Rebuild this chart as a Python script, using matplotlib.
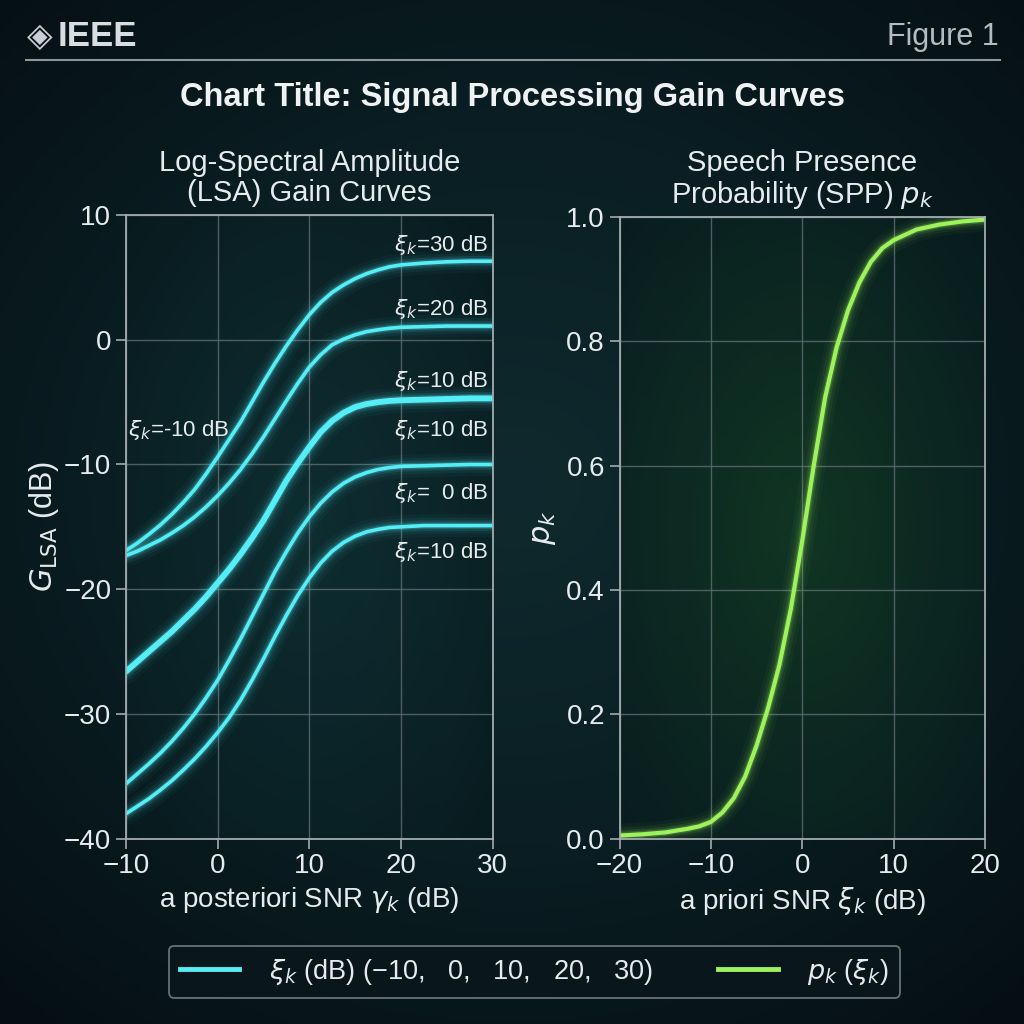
import numpy as np
import matplotlib.pyplot as plt
from matplotlib.colors import LinearSegmentedColormap
from matplotlib.lines import Line2D

plt.rcParams['font.family'] = ['Liberation Sans', 'DejaVu Sans']
plt.rcParams['mathtext.fontset'] = 'dejavusans'

# a posteriori SNR (dB) for the LSA gain curves
gamma_db = [-10, -8.75, -7.5, -6.25, -5, -3.75, -2.5, -1.25, 0, 1.25, 2.5, 3.75, 5, 6.25, 7.5,
            8.75, 10, 11.25, 12.5, 13.75, 15, 16.25, 17.5, 18.75, 20, 22.5, 25, 27.5, 30]
gain_xi30 = [-16.9, -16.3, -15.6, -14.85, -14.0, -13.05, -12.0, -10.75, -9.4, -8.0, -6.6, -5.0, -3.4, -1.9, -0.5,
             0.8, 2.0, 3.0, 3.8, 4.4, 4.9, 5.3, 5.6, 5.85, 6.0, 6.15, 6.25, 6.3, 6.3]
gain_xi20 = [-17.3, -16.95, -16.5, -16.05, -15.5, -14.9, -14.2, -13.4, -12.5, -11.5, -10.4, -9.15, -7.8, -6.35, -4.9,
             -3.5, -2.2, -1.2, -0.4, 0.05, 0.4, 0.65, 0.8, 0.92, 1.0, 1.05, 1.1, 1.1, 1.1]
gain_xi10 = [-26.6, -25.8, -25.0, -24.2, -23.4, -22.5, -21.6, -20.6, -19.5, -18.4, -17.2, -15.9, -14.5, -12.9, -11.3,
             -9.9, -8.6, -7.4, -6.5, -5.85, -5.4, -5.15, -5.0, -4.9, -4.85, -4.8, -4.75, -4.7, -4.7]
gain_xi0 = [-35.6, -34.8, -34.0, -33.15, -32.2, -31.15, -30.0, -28.7, -27.3, -25.7, -24.0, -22.2, -20.4, -18.6, -17.0,
            -15.5, -14.2, -13.1, -12.2, -11.5, -11.0, -10.65, -10.4, -10.25, -10.15, -10.1, -10.05, -10.0, -10.0]
gain_xim10 = [-38.0, -37.4, -36.8, -36.1, -35.35, -34.5, -33.6, -32.6, -31.5, -30.3, -28.9, -27.3, -25.6, -23.8, -22.1,
              -20.5, -19.1, -17.9, -16.95, -16.25, -15.75, -15.4, -15.2, -15.05, -15.0, -14.9, -14.9, -14.9, -14.9]

# a priori SNR (dB) and speech presence probability
xi_db = [-20, -17.5, -15, -12.5, -11.25, -10, -8.75, -7.5, -6.25, -5, -3.75, -2.5, -1.25, 0, 1.25,
         2.5, 3.75, 5, 6.25, 7.5, 8.75, 10, 12.5, 15, 17.5, 20]
spp = [0.005, 0.007, 0.010, 0.016, 0.020, 0.027, 0.042, 0.065, 0.10, 0.15, 0.21, 0.28, 0.37, 0.48, 0.60,
       0.71, 0.79, 0.85, 0.895, 0.928, 0.950, 0.963, 0.980, 0.988, 0.993, 0.996]

curve_labels = ['$\\xi_k$=30 dB', '$\\xi_k$=20 dB', '$\\xi_k$=10 dB', '$\\xi_k$=10 dB', '$\\xi_k$=  0 dB', '$\\xi_k$=10 dB']
label_y = [7.6, 2.5, -3.3, -7.2, -12.3, -17.0]

cyan = '#55eef6'
green = '#9ef25c'
txt = '#e6ecee'
gridc = '#5f6e73'
spinec = '#a3abae'

fig = plt.figure(figsize=(10.24, 10.24), dpi=100)
fig.patch.set_facecolor('#07151a')

# background vignette
bg = fig.add_axes([0, 0, 1, 1], zorder=-10)
yy, xx = np.mgrid[-1:1:300j, -1:1:300j]
r = np.sqrt((xx * 0.9) ** 2 + ((yy + 0.05) * 1.0) ** 2)
bg_cmap = LinearSegmentedColormap.from_list('bg', ['#0f2a2e', '#0a1e23', '#050e12'])
bg.imshow(r, cmap=bg_cmap, extent=[0, 1, 0, 1], aspect='auto', vmin=0, vmax=1.4)
bg.axis('off')


def glow_plot(ax, x, y, color, lw):
    for w, a in [(lw + 14, 0.035), (lw + 9, 0.06), (lw + 5, 0.11), (lw + 2, 0.22)]:
        ax.plot(x, y, color=color, lw=w, alpha=a, solid_capstyle='round', solid_joinstyle='round')
    ax.plot(x, y, color=color, lw=lw, solid_capstyle='round', solid_joinstyle='round')


def style_axes(ax, tint):
    ax.set_facecolor('none')
    gy, gx = np.mgrid[-1:1:200j, -1:1:200j]
    rr = np.sqrt(gx ** 2 + gy ** 2)
    cm = LinearSegmentedColormap.from_list('t', [tint, '#081a1e'])
    ax.imshow(rr, cmap=cm, extent=[0, 1, 0, 1], transform=ax.transAxes,
              aspect='auto', zorder=-5, vmin=0, vmax=1.5, alpha=0.85)
    ax.grid(True, color=gridc, lw=1.0, alpha=0.8)
    ax.set_axisbelow(True)
    for s in ax.spines.values():
        s.set_color(spinec)
        s.set_linewidth(1.3)
    ax.tick_params(colors=spinec, labelcolor=txt, labelsize=20, length=7, width=1.2)


# left panel
ax1 = fig.add_axes([0.123, 0.181, 0.358, 0.609])
style_axes(ax1, '#0f3034')
glow_plot(ax1, gamma_db, gain_xi30, cyan, 2.6)
glow_plot(ax1, gamma_db, gain_xi20, cyan, 2.6)
glow_plot(ax1, gamma_db, gain_xi10, cyan, 4.2)
glow_plot(ax1, gamma_db, gain_xi0, cyan, 2.6)
glow_plot(ax1, gamma_db, gain_xim10, cyan, 2.6)
ax1.set_xlim(-10, 30)
ax1.set_ylim(-40, 10)
ax1.set_xticks([-10, 0, 10, 20, 30])
ax1.set_yticks([10, 0, -10, -20, -30, -40])
ax1.set_xticklabels(['\u221210', '0', '10', '20', '30'])
ax1.set_yticklabels(['10', '0', '\u221210', '\u221220', '\u221230', '\u221240'])
for lab, yv in zip(curve_labels, label_y):
    ax1.text(29.5, yv, lab, color=txt, fontsize=16, ha='right', va='center')
ax1.text(-9.8, -7.2, '$\\xi_k$=-10 dB', color=txt, fontsize=16, ha='left', va='center')
ax1.set_title('Log-Spectral Amplitude\n(LSA) Gain Curves', color=txt, fontsize=21, pad=10, linespacing=1.1)
ax1.set_xlabel('a posteriori SNR $\\gamma_k$ (dB)', color=txt, fontsize=20, labelpad=4)
ax1.set_ylabel('$G_{\\mathrm{LSA}}$ (dB)', color=txt, fontsize=22, labelpad=2)

# right panel
ax2 = fig.add_axes([0.605, 0.181, 0.357, 0.607])
style_axes(ax2, '#123a24')
glow_plot(ax2, xi_db, spp, green, 3.0)
ax2.set_xlim(-20, 20)
ax2.set_ylim(0, 1.0)
ax2.set_xticks([-20, -10, 0, 10, 20])
ax2.set_xticklabels(['\u221220', '\u221210', '0', '10', '20'])
ax2.set_yticks([0, 0.2, 0.4, 0.6, 0.8, 1.0])
ax2.set_yticklabels(['0.0', '0.2', '0.4', '0.6', '0.8', '1.0'])
ax2.set_title('Speech Presence\nProbability (SPP) $p_k$', color=txt, fontsize=21, pad=10, linespacing=1.1)
ax2.set_xlabel('a priori SNR $\\xi_k$ (dB)', color=txt, fontsize=20, labelpad=4)
ax2.set_ylabel('$p_k$', color=txt, fontsize=22, labelpad=6)

# header
fig.text(0.026, 0.964, '\u25c8', color='#c9cfd2', fontsize=24, ha='left', va='center',
         family=['DejaVu Sans'])
fig.text(0.056, 0.964, 'IEEE', color='#d8dde0', fontsize=25, fontweight='bold', ha='left', va='center')
fig.text(0.975, 0.964, 'Figure 1', color='#b5bcbf', fontsize=22, ha='right', va='center')
fig.add_artist(Line2D([0.025, 0.977], [0.941, 0.941], color='#8d979b', lw=1.5))
fig.text(0.5, 0.905, 'Chart Title: Signal Processing Gain Curves', color='#eef2f3',
         fontsize=23.5, fontweight='bold', ha='center', va='center')

# legend
handles = [Line2D([], [], color=cyan, lw=3.5), Line2D([], [], color=green, lw=3.5)]
labels = ['$\\xi_k$ (dB) (\u221210,   0,   10,   20,   30)', '$p_k$ ($\\xi_k$)']
leg = fig.legend(handles, labels, loc='center', bbox_to_anchor=(0.522, 0.051), ncol=2,
                 fontsize=19.5, frameon=True, columnspacing=2.4, handlelength=2.2,
                 borderpad=0.4, handletextpad=1.1)
leg.get_frame().set_facecolor('#0a171c')
leg.get_frame().set_edgecolor('#7f898d')
leg.get_frame().set_linewidth(1.3)
for t in leg.get_texts():
    t.set_color(txt)

fig.savefig('out.png', dpi=100, facecolor=fig.get_facecolor())
